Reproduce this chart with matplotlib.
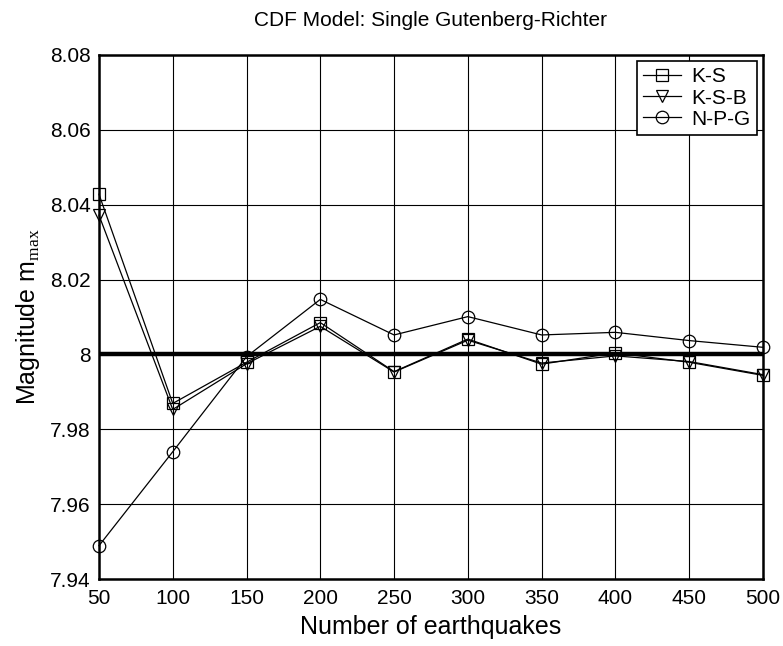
import numpy as np
import matplotlib
matplotlib.use('Agg')
import matplotlib.pyplot as plt

plt.rcParams['font.family'] = ['Liberation Sans', 'DejaVu Sans']
plt.rcParams['mathtext.fontset'] = 'custom'
plt.rcParams['mathtext.rm'] = 'Liberation Serif'

# data
n_quakes = [50, 100, 150, 200, 250, 300, 350, 400, 450, 500]
ks = [8.0428, 7.9869, 7.9979, 8.0085, 7.9954, 8.0041, 7.9974, 8.0004, 7.9979, 7.9944]
ksb = [8.0372, 7.9853, 7.9975, 8.0075, 7.9953, 8.0038, 7.9977, 7.9996, 7.9981, 7.9946]
npg = [7.9489, 7.9740, 7.9994, 8.0147, 8.0052, 8.0101, 8.0052, 8.0059, 8.0037, 8.0019]
true_mmax = 8.0

x_ticks = [50, 100, 150, 200, 250, 300, 350, 400, 450, 500]
y_ticks = [7.94, 7.96, 7.98, 8.0, 8.02, 8.04, 8.06, 8.08]
y_ticklabels = ['7.94', '7.96', '7.98', '8', '8.02', '8.04', '8.06', '8.08']

fig = plt.figure(figsize=(7.83, 6.46), dpi=100)
ax = fig.add_axes([0.1264, 0.1037, 0.848, 0.8112])

ax.axhline(true_mmax, color='black', lw=3.2, zorder=2)

mk = dict(color='black', lw=0.9, markersize=9, markerfacecolor='none',
          markeredgewidth=0.9, clip_on=False, zorder=3)
ax.plot(n_quakes, ks, marker='s', label='K-S', **mk)
ax.plot(n_quakes, ksb, marker='v', label='K-S-B', **mk)
ax.plot(n_quakes, npg, marker='o', label='N-P-G', **mk)

ax.set_xlim(50, 500)
ax.set_ylim(7.94, 8.08)
ax.set_xticks(x_ticks)
ax.set_yticks(y_ticks)
ax.set_yticklabels(y_ticklabels)
ax.grid(True, color='black', lw=0.8, ls='-')
ax.set_axisbelow(True)
for s in ax.spines.values():
    s.set_linewidth(1.8)
ax.tick_params(direction='in', length=0, labelsize=15)
ax.tick_params(axis='x', pad=7)
ax.tick_params(axis='y', pad=6)

ax.set_title('CDF Model: Single Gutenberg-Richter', fontsize=15, pad=21)
ax.set_xlabel('Number of earthquakes', fontsize=18, labelpad=5)
ax.set_ylabel(r'Magnitude m$_{\mathrm{max}}$', fontsize=18, labelpad=6)

leg = ax.legend(loc='upper right', fontsize=15, frameon=True, fancybox=False,
                edgecolor='black', framealpha=1, borderpad=0.3, labelspacing=0.1,
                handlelength=1.8, handletextpad=0.5, borderaxespad=0.3)
leg.get_frame().set_linewidth(1.2)

fig.savefig('out.png', dpi=100)
